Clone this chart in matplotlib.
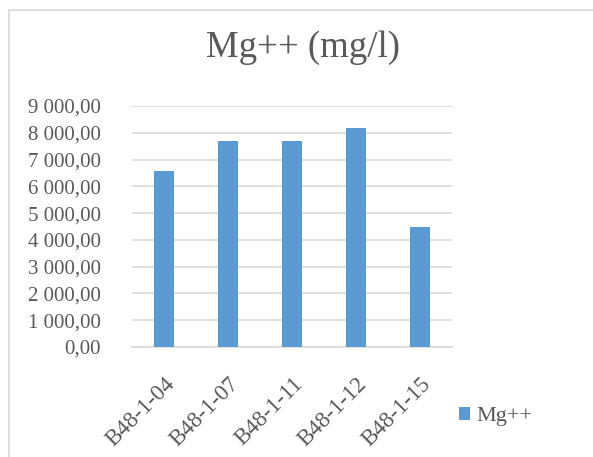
import matplotlib
matplotlib.use("Agg")
import matplotlib.pyplot as plt
from matplotlib.lines import Line2D

# Mg++ concentrations per sample
samples = ["B48-1-04", "B48-1-07", "B48-1-11", "B48-1-12", "B48-1-15"]
mg_values = [6580, 7700, 7700, 8190, 4475]
y_ticks = [0, 1000, 2000, 3000, 4000, 5000, 6000, 7000, 8000, 9000]

text_col = "#595959"
plt.rcParams["font.family"] = ["Liberation Serif", "DejaVu Serif"]

fig = plt.figure(figsize=(5.93, 4.57), dpi=100)
ax = fig.add_axes([0.222, 0.241, 0.541, 0.527])

x = range(len(samples))
ax.bar(x, mg_values, width=0.31, color="#5B9BD5", label="Mg++", zorder=3)

ax.set_ylim(0, 9000)
ax.set_xlim(-0.5, len(samples) - 0.5)
ax.set_yticks(y_ticks)
ax.set_yticklabels([f"{v:,.2f}".replace(",", " ").replace(".", ",") for v in y_ticks],
                   fontsize=15, color=text_col)
ax.set_xticks(list(x))
ax.set_xticklabels(samples, fontsize=16.5, color=text_col, rotation=45,
                   ha="right", va="top", rotation_mode="anchor")
ax.tick_params(axis="both", length=0)
ax.tick_params(axis="y", pad=22)
ax.tick_params(axis="x", pad=19)
ax.grid(axis="y", color="#D9D9D9", linewidth=1.2, zorder=0)
for s in ["top", "right", "left"]:
    ax.spines[s].set_visible(False)
ax.spines["bottom"].set_color("#D9D9D9")
ax.spines["bottom"].set_linewidth(1.2)

fig.text(0.511, 0.895, "Mg++ (mg/l)", fontsize=26.5, color=text_col,
         ha="center", va="center")

ax.legend(loc="center left", bbox_to_anchor=(0.74, 0.088), bbox_transform=fig.transFigure,
          frameon=False, fontsize=16, labelcolor=text_col,
          handlelength=0.5, handleheight=0.5, handletextpad=0.3)

# chart border (cropped on right and bottom)
fig.add_artist(Line2D([9 / 593, 9 / 593], [0, 1 - 10 / 457], transform=fig.transFigure,
                      color="#D9D9D9", linewidth=1.2))
fig.add_artist(Line2D([9 / 593, 1], [1 - 10 / 457, 1 - 10 / 457], transform=fig.transFigure,
                      color="#D9D9D9", linewidth=1.2))

fig.savefig("out.png", dpi=100)
